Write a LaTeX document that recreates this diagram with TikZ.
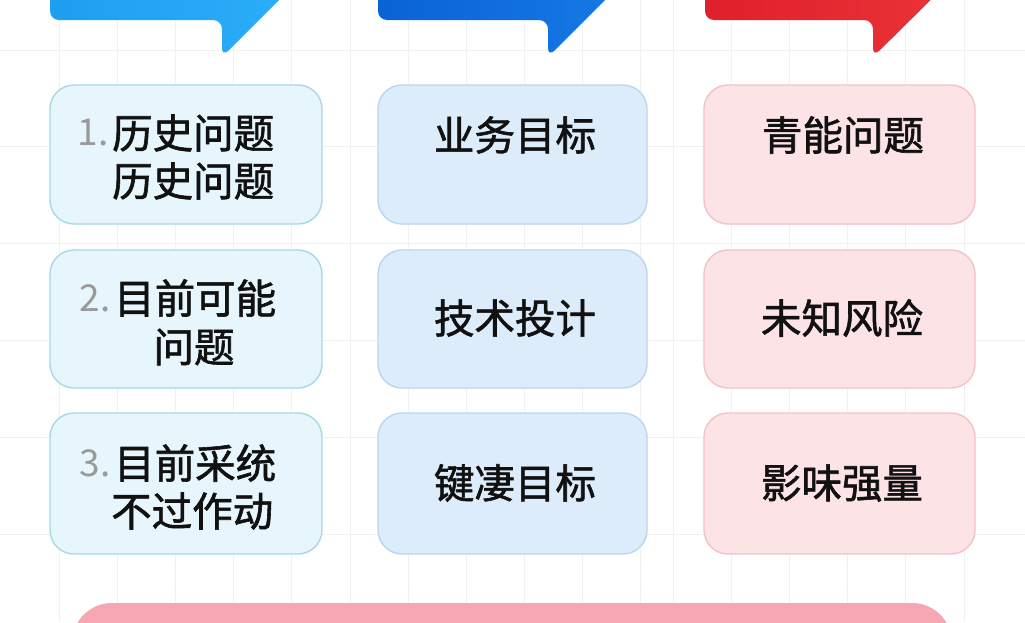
\documentclass[tikz,border=0pt]{standalone}
\usepackage{fontspec}
\newfontfamily\cjk[FakeBold=1.5]{Noto Sans CJK SC}
\newfontfamily\cjknum{Noto Sans CJK SC}
\usetikzlibrary{positioning}
\definecolor{bubA}{HTML}{1E9EF0}
\definecolor{bubAr}{HTML}{2BAEFA}
\definecolor{bubB}{HTML}{0A63D6}
\definecolor{bubBr}{HTML}{1679E6}
\definecolor{bubC}{HTML}{E0202C}
\definecolor{bubCr}{HTML}{EA3338}
\definecolor{fillA}{HTML}{E6F6FC}
\definecolor{lineA}{HTML}{A8D8E6}
\definecolor{fillB}{HTML}{DDECFB}
\definecolor{lineB}{HTML}{BAD5F0}
\definecolor{fillC}{HTML}{FCE3E6}
\definecolor{lineC}{HTML}{F0C3C9}
\definecolor{barC}{HTML}{F7A7B2}
\definecolor{gridC}{HTML}{F1F1F1}
\definecolor{numC}{HTML}{9A9A9A}
\definecolor{txtC}{HTML}{111111}
\tikzset{
  cardbox/.style={rounded corners=24pt, line width=1.4pt},
  colA/.style={cardbox, draw=lineA, fill=fillA},
  colB/.style={cardbox, draw=lineB, fill=fillB},
  colC/.style={cardbox, draw=lineC, fill=fillC},
  lbl/.style={font=\cjk\fontsize{40.5}{40.5}\selectfont, text=txtC, inner sep=0pt},
  numlbl/.style={font=\cjknum\fontsize{37}{37}\selectfont, text=numC, inner sep=0pt},
}
\begin{document}
\begin{tikzpicture}[x=1pt,y=-1pt]
\useasboundingbox (0,0) rectangle (1025,622);
\fill[white] (0,0) rectangle (1025,622);
% faint grid
\foreach \gx in {59,117,175,233,291,350,408,466,524,582,640,673,731,789,847,905,964} {
  \draw[gridC, line width=0.8pt] (\gx,0) -- (\gx,622);
}
\foreach \gy in {50,146,243,340,437,534} {
  \draw[gridC, line width=0.8pt] (0,\gy) -- (1025,\gy);
}
% speech bubbles
\shade[left color=bubA, right color=bubAr, rounded corners=9pt]
  (50,-40) -- (50,20) -- (222,20) -- (222,57) -- (300,-21) -- (300,-40) -- cycle;
\shade[left color=bubB, right color=bubBr, rounded corners=9pt]
  (378,-40) -- (378,20) -- (548,20) -- (548,57) -- (626,-21) -- (626,-40) -- cycle;
\shade[left color=bubC, right color=bubCr, rounded corners=9pt]
  (705,-40) -- (705,20) -- (873,20) -- (873,57) -- (952,-21) -- (952,-40) -- cycle;
% cards
\draw[colA] (50,85) rectangle (322,224);
\draw[colB] (378,85) rectangle (647,224);
\draw[colC] (704,85) rectangle (975,224);
\draw[colA] (50,250) rectangle (322,388);
\draw[colB] (378,250) rectangle (647,388);
\draw[colC] (704,250) rectangle (975,388);
\draw[colA] (50,413) rectangle (322,554);
\draw[colB] (378,413) rectangle (647,554);
\draw[colC] (704,413) rectangle (975,554);
% bottom bar
\fill[barC, rounded corners=40pt] (72,603) rectangle (952,680);
% left column texts
\node[numlbl, anchor=east] (n1) at (109,133) {1.};
\node[lbl, anchor=west] (a1) at (112,133) {历史问题};
\node[lbl, anchor=west] (a1b) at (112,181) {历史问题};
\node[numlbl, anchor=east] (n2) at (111,298) {2.};
\node[lbl, anchor=west] (a2) at (114,298) {目前可能};
\node[lbl] (a2b) at (194,347) {问题};
\node[numlbl, anchor=east] (n3) at (111,463) {3.};
\node[lbl, anchor=west] (a3) at (114,463) {目前采统};
\node[lbl, anchor=west] (a3b) at (111,511) {不过作动};
% middle column texts
\node[lbl] (b1) at (515,135) {业务目标};
\node[lbl] (b2) at (515,318) {技术投计};
\node[lbl] (b3) at (515,483) {键凄目标};
% right column texts
\node[lbl] (c1) at (843,135) {青能问题};
\node[lbl] (c2) at (842,318) {未知风险};
\node[lbl] (c3) at (842,483) {影味强量};
\end{tikzpicture}
\end{document}
